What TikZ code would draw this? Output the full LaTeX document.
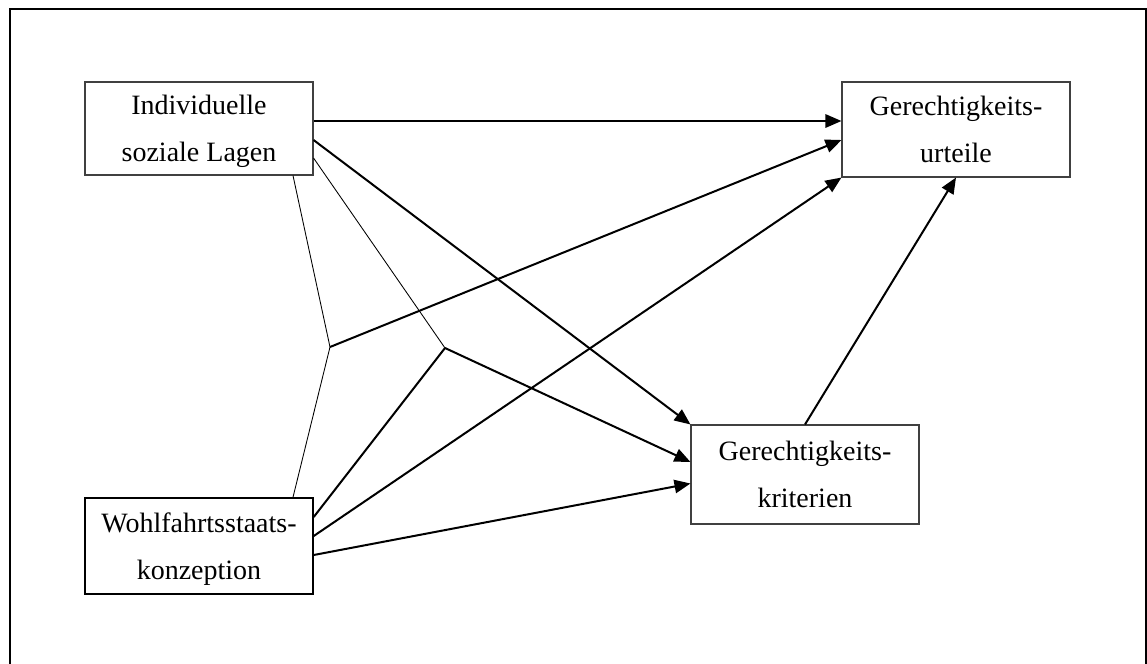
\documentclass[tikz,border=0pt]{standalone}
\usepackage{fontspec}
\setmainfont{Liberation Serif}
\usetikzlibrary{arrows.meta}
\tikzset{
  box/.style={draw=black!75, line width=0.8pt, minimum width=171pt, minimum height=71.25pt,
    inner sep=0pt, align=center, text depth=0pt,
    font=\fontsize{21pt}{35pt}\selectfont},
  thick arrow/.style={line width=1.5pt, -{Triangle[length=12pt,width=10pt]}},
  thick line/.style={line width=1.5pt},
  thin line/.style={line width=0.65pt},
  frame/.style={line width=1.9pt}
}
\begin{document}
\begin{tikzpicture}[x=0.75pt, y=-0.75pt]
\useasboundingbox (0,0) rectangle (1147,664);
\draw[frame] (10,680) -- (10,9) -- (1146,9) -- (1146,680);

\node[box, minimum height=69.75pt] (ind) at (199,128.5) {Individuelle\\soziale Lagen};
\node[box] (urt) at (956,129.5) {Gerechtigkeits-\\urteile};
\node[box, minimum height=72pt, draw=black, line width=1.1pt] (wohl) at (199,546) {Wohlfahrtsstaats-\\konzeption};
\node[box, minimum height=74.25pt] (kri) at (805,474.5) {Gerechtigkeits-\\kriterien};

\coordinate (j1) at (330,347);
\coordinate (j2) at (445,348);

% Individuelle soziale Lagen
\draw[thick arrow] ([shift={(0,-7.5)}]ind.east) -- ([shift={(0,-8.5)}]urt.west);
\draw[thick arrow] ([shift={(0,11.5)}]ind.east) -- (kri.north west);
\draw[thin line] ([shift={(0,29.5)}]ind.east) -- (j2);
\draw[thin line] ([shift={(94,0)}]ind.south) -- (j1);

% interaction 1
\draw[thin line] (j1) -- ([shift={(94,0)}]wohl.north);
\draw[thick arrow] (j1) -- ([shift={(0,10.5)}]urt.west);

% interaction 2
\draw[thick line] ([shift={(0,-29)}]wohl.east) -- (j2);
\draw[thick arrow] (j2) -- ([shift={(0,-12.5)}]kri.west);

% Wohlfahrtsstaatskonzeption
\draw[thick arrow] ([shift={(0,-10)}]wohl.east) -- (urt.south west);
\draw[thick arrow] ([shift={(0,9)}]wohl.east) -- ([shift={(0,9)}]kri.west);

% Kriterien -> Urteile
\draw[thick arrow] (kri.north) -- (urt.south);
\end{tikzpicture}
\end{document}
